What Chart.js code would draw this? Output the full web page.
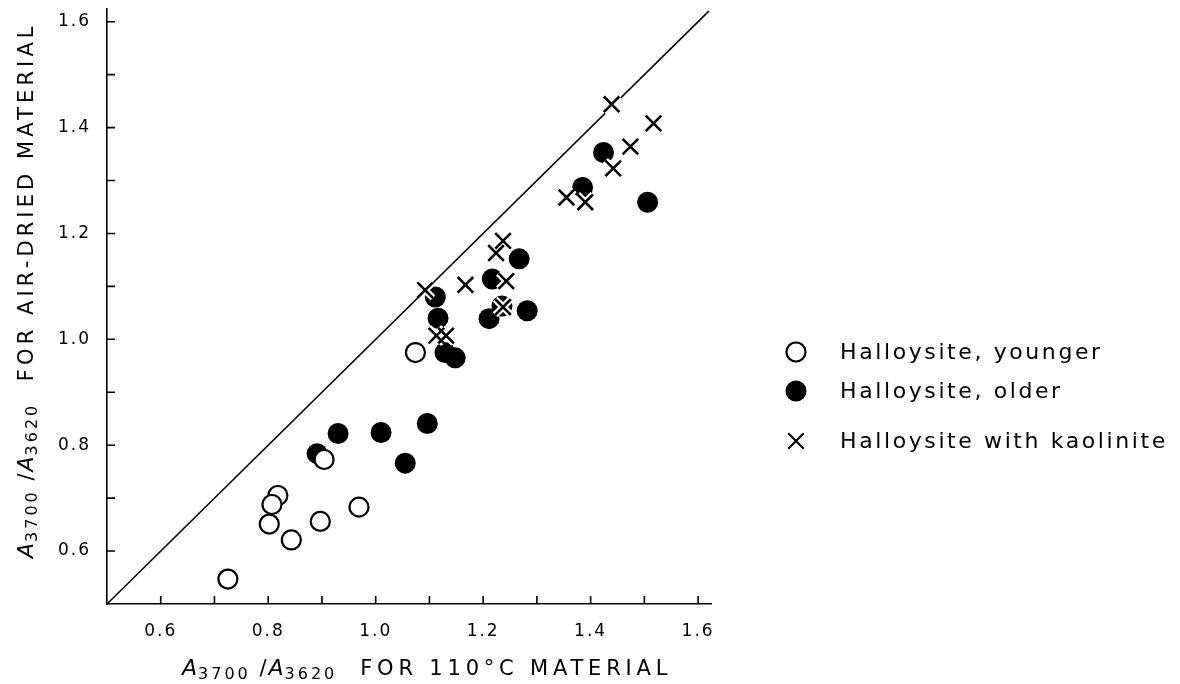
<!DOCTYPE html>
<html>
<head>
<meta charset="utf-8">
<script src="https://cdn.jsdelivr.net/npm/chart.js@4.4.1/dist/chart.umd.min.js"></script>
<style>
html, body { margin: 0; padding: 0; background: #fff; }
#wrap { width: 1180px; height: 684px; position: relative; }
</style>
</head>
<body>
<div id="wrap"><canvas id="grafica"></canvas></div>
<script>
// halloysite, younger (open circles)
const youngerX = [0.725, 0.802, 0.818, 0.807, 0.843, 0.897, 0.904, 0.969, 1.074];
const youngerY = [0.547, 0.651, 0.705, 0.688, 0.621, 0.656, 0.773, 0.683, 0.975];

// halloysite, older (filled circles)
const olderX = [0.891, 0.930, 1.010, 1.055, 1.096, 1.111, 1.116, 1.148, 1.129, 1.211, 1.217, 1.235, 1.267, 1.282, 1.385, 1.424, 1.506];
const olderY = [0.784, 0.822, 0.824, 0.766, 0.841, 1.080, 1.040, 0.965, 0.975, 1.039, 1.114, 1.063, 1.152, 1.054, 1.287, 1.353, 1.259];

// halloysite with kaolinite (crosses)
const kaolX = [1.092, 1.113, 1.131, 1.167, 1.224, 1.237, 1.243, 1.237, 1.355, 1.390, 1.439, 1.442, 1.474, 1.517];
const kaolY = [1.093, 1.007, 1.007, 1.103, 1.163, 1.186, 1.110, 1.061, 1.268, 1.259, 1.444, 1.323, 1.364, 1.408];

// 1:1 line ends
const diagX = [0.5, 1.62];
const diagY = [0.5, 1.62];

// ticks
const labelValues = [0.6, 0.8, 1.0, 1.2, 1.4, 1.6];
const tickLabels = ['0.6', '0.8', '1.0', '1.2', '1.4', '1.6'];
const markValues = [0.6, 0.7, 0.8, 0.9, 1.0, 1.1, 1.2, 1.3, 1.4, 1.5, 1.6];

const toPts = (xs, ys) => xs.map((x, i) => ({ x: x, y: ys[i] }));

const FONT = 'DejaVu Sans';

// texto con subindices
function drawRich(ctx, x, y, parts) {
  parts.forEach(p => {
    ctx.font = p.font;
    ctx.letterSpacing = p.ls;
    ctx.fillText(p.t, x, y + (p.dy || 0));
    x += ctx.measureText(p.t).width;
  });
}

function titleParts(rest, ls) {
  const big = '21px "' + FONT + '"';
  const ita = 'italic 22px "' + FONT + '"';
  const sub = '16px "' + FONT + '"';
  return [
    { t: 'A', font: ita, ls: '1px' },
    { t: '3700', font: sub, dy: 4, ls: '3px' },
    { t: ' /', font: big, ls: '2px' },
    { t: 'A', font: ita, ls: '1px' },
    { t: '3620', font: sub, dy: 4, ls: '3px' },
    { t: '  ' + rest, font: big, ls: ls }
  ];
}

const decor = {
  id: 'decor',
  beforeDraw(chart) {
    chart.ctx.letterSpacing = '2px';
  },
  afterDraw(chart) {
    const ctx = chart.ctx;
    const xs = chart.scales.x, ys = chart.scales.y;
    ctx.save();
    // marcas hacia adentro
    ctx.strokeStyle = '#000';
    ctx.lineWidth = 1.6;
    ctx.beginPath();
    markValues.forEach(v => {
      const px = xs.getPixelForValue(v);
      ctx.moveTo(px, xs.top);
      ctx.lineTo(px, xs.top - 8);
      const py = ys.getPixelForValue(v);
      ctx.moveTo(ys.right, py);
      ctx.lineTo(ys.right + 8, py);
    });
    ctx.stroke();

    // titulos de ejes
    ctx.fillStyle = '#000';
    ctx.textAlign = 'left';
    ctx.textBaseline = 'alphabetic';
    drawRich(ctx, 182, 675, titleParts('FOR 110°C MATERIAL', '4.8px'));
    ctx.save();
    ctx.translate(33, 558);
    ctx.rotate(-Math.PI / 2);
    drawRich(ctx, 0, 0, titleParts('FOR AIR-DRIED MATERIAL', '4.1px'));
    ctx.restore();

    // leyenda
    const rows = [352, 391, 441];
    const sets = chart.data.datasets.filter(d => d.inLegend);
    ctx.letterSpacing = '2.6px';
    ctx.font = '22px "' + FONT + '"';
    ctx.textBaseline = 'middle';
    sets.forEach((d, i) => {
      const y = rows[i], x = 796;
      ctx.lineWidth = 2.2;
      ctx.beginPath();
      if (d.pointStyle === 'circle') {
        ctx.arc(x, y, d.pointRadius, 0, Math.PI * 2);
        ctx.fillStyle = d.backgroundColor;
        ctx.fill();
        if (d.pointBorderWidth) ctx.stroke();
      } else {
        const r = d.pointRadius * Math.SQRT1_2;
        ctx.moveTo(x - r, y - r); ctx.lineTo(x + r, y + r);
        ctx.moveTo(x - r, y + r); ctx.lineTo(x + r, y - r);
        ctx.stroke();
      }
      ctx.fillStyle = '#000';
      ctx.fillText(d.label, 840, y + 1);
    });
    ctx.restore();
  }
};

const noPad = s => { s.paddingTop = 0; s.paddingBottom = 0; s.paddingLeft = 0; s.paddingRight = 0; };

const ctx = document.getElementById('grafica').getContext('2d');
new Chart(ctx, {
  type: 'scatter',
  data: {
    datasets: [
      {
        label: 'Halloysite, younger',
        inLegend: true,
        data: toPts(youngerX, youngerY),
        pointStyle: 'circle',
        pointRadius: 9.5,
        pointBorderWidth: 2.2,
        backgroundColor: '#fff',
        borderColor: '#000',
        order: 3
      },
      {
        label: 'Halloysite, older',
        inLegend: true,
        data: toPts(olderX, olderY),
        pointStyle: 'circle',
        pointRadius: 10.5,
        pointBorderWidth: 0,
        backgroundColor: '#000',
        borderColor: '#000',
        order: 4
      },
      {
        label: 'Halloysite with kaolinite',
        inLegend: true,
        data: toPts(kaolX, kaolY),
        pointStyle: 'crossRot',
        pointRadius: 11,
        pointBorderWidth: 2.6,
        borderColor: '#000',
        backgroundColor: '#000',
        order: 1
      },
      {
        label: 'halo',
        data: toPts(kaolX, kaolY),
        pointStyle: 'crossRot',
        pointRadius: 11,
        pointBorderWidth: 7,
        borderColor: '#fff',
        backgroundColor: '#fff',
        order: 2
      },
      {
        type: 'line',
        label: '1:1',
        data: toPts(diagX, diagY),
        borderColor: '#000',
        borderWidth: 1.5,
        pointRadius: 0,
        order: 5
      }
    ]
  },
  options: {
    responsive: true,
    maintainAspectRatio: false,
    animation: false,
    layout: { autoPadding: false, padding: { top: 9, right: 469, left: 0, bottom: 0 } },
    plugins: { legend: { display: false }, tooltip: { enabled: false } },
    scales: {
      x: {
        type: 'linear',
        min: 0.5,
        max: 1.624,
        grid: { display: false },
        border: { display: true, color: '#000', width: 1.6 },
        afterBuildTicks: s => { s.ticks = labelValues.map(v => ({ value: v })); },
        afterFit: s => { s.height = 80; noPad(s); },
        ticks: {
          color: '#000',
          font: { family: FONT, size: 17 },
          padding: 9,
          maxRotation: 0,
          autoSkip: false,
          callback: (v, i) => tickLabels[i]
        }
      },
      y: {
        type: 'linear',
        min: 0.5,
        max: 1.624,
        grid: { display: false },
        border: { display: true, color: '#000', width: 1.6 },
        afterBuildTicks: s => { s.ticks = labelValues.map(v => ({ value: v })); },
        afterFit: s => { s.width = 107; noPad(s); },
        ticks: {
          color: '#000',
          font: { family: FONT, size: 17 },
          padding: 8,
          autoSkip: false,
          callback: (v, i) => tickLabels[i]
        }
      }
    }
  },
  plugins: [decor]
});
</script>
</body>
</html>
